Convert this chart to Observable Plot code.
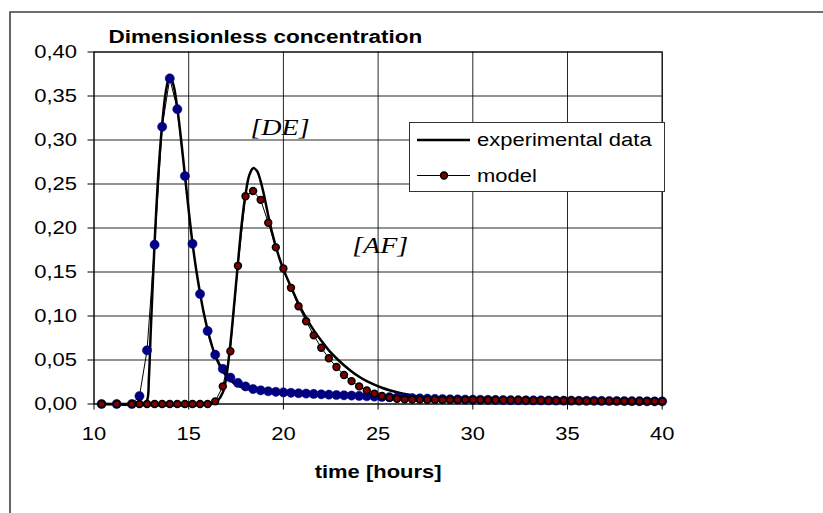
<!DOCTYPE html>
<html><head><meta charset="utf-8">
<script src="https://cdn.jsdelivr.net/npm/d3@7"></script>
<script src="https://cdn.jsdelivr.net/npm/@observablehq/plot@0.6"></script>
<style>
html,body{margin:0;padding:0;background:#fff;}
#wrap{position:relative;width:823px;height:513px;overflow:hidden;}
</style></head><body><div id="wrap"></div>
<script>
const title = "Dimensionless concentration";
const xLabel = "time [hours]";
const xTicks = [10, 15, 20, 25, 30, 35, 40];
const yTicks = [0, 0.05, 0.10, 0.15, 0.20, 0.25, 0.30, 0.35, 0.40];
const legendLabels = ["experimental data", "model"];
const annText = ["[DE]", "[AF]"];
const annX = [18.26, 23.63];
const annY = [0.314, 0.18];

const modelTime = [10.4, 11.2, 12.0, 12.4, 12.8, 13.2, 13.6, 14.0, 14.4, 14.8, 15.2, 15.6, 16.0, 16.4, 16.8, 17.2, 17.6, 18.0, 18.4, 18.8, 19.2, 19.6, 20.0, 20.4, 20.8, 21.2, 21.6, 22.0, 22.4, 22.8, 23.2, 23.6, 24.0, 24.4, 24.8, 25.2, 25.6, 26.0, 26.4, 26.8, 27.2, 27.6, 28.0, 28.4, 28.8, 29.2, 29.6, 30.0, 30.4, 30.8, 31.2, 31.6, 32.0, 32.4, 32.8, 33.2, 33.6, 34.0, 34.4, 34.8, 35.2, 35.6, 36.0, 36.4, 36.8, 37.2, 37.6, 38.0, 38.4, 38.8, 39.2, 39.6, 40.0];
const modelDE = [0.000, 0.000, 0.000, 0.009, 0.061, 0.181, 0.315, 0.370, 0.335, 0.259, 0.182, 0.125, 0.083, 0.056, 0.040, 0.030, 0.024, 0.020, 0.017, 0.0155, 0.0145, 0.0138, 0.0132, 0.0127, 0.0122, 0.0118, 0.0114, 0.0110, 0.0106, 0.0102, 0.0099, 0.0096, 0.0092, 0.0088, 0.0084, 0.0080, 0.0077, 0.0074, 0.0070, 0.0067, 0.0064, 0.0061, 0.0058, 0.0056, 0.0054, 0.0052, 0.0050, 0.0049, 0.0048, 0.0047, 0.0046, 0.0045, 0.0044, 0.0043, 0.0042, 0.0041, 0.0041, 0.0040, 0.0039, 0.0038, 0.0038, 0.0037, 0.0036, 0.0036, 0.0035, 0.0034, 0.0034, 0.0033, 0.0032, 0.0032, 0.0031, 0.0030, 0.0030];
const modelAF = [0.000, 0.000, 0.000, 0.000, 0.000, 0.000, 0.000, 0.000, 0.000, 0.000, 0.000, 0.000, 0.000, 0.003, 0.020, 0.060, 0.157, 0.236, 0.242, 0.232, 0.206, 0.178, 0.154, 0.132, 0.111, 0.094, 0.078, 0.064, 0.052, 0.042, 0.033, 0.026, 0.020, 0.0155, 0.0118, 0.0092, 0.0072, 0.0060, 0.0054, 0.0051, 0.0050, 0.0049, 0.0049, 0.0048, 0.0048, 0.0047, 0.0047, 0.0046, 0.0046, 0.0045, 0.0045, 0.0044, 0.0043, 0.0043, 0.0042, 0.0041, 0.0041, 0.0040, 0.0039, 0.0039, 0.0038, 0.0037, 0.0037, 0.0036, 0.0035, 0.0035, 0.0034, 0.0033, 0.0033, 0.0032, 0.0031, 0.0031, 0.0030];

const expDETime = [10.4, 12.0, 12.6, 12.8, 12.9, 13.0, 13.2, 13.4, 13.6, 13.8, 14.0, 14.2, 14.4, 14.6, 14.8, 15.0, 15.2, 15.4, 15.6, 15.8, 16.0, 16.2, 16.4, 16.8, 17.2, 17.6, 18.4, 19.2, 20.0, 22.0, 24.0, 26.0, 28.0, 32.0, 36.0, 40.0];
const expDE = [0, 0, 0, 0.004, 0.030, 0.085, 0.183, 0.262, 0.318, 0.356, 0.373, 0.362, 0.336, 0.300, 0.260, 0.220, 0.183, 0.152, 0.126, 0.103, 0.084, 0.068, 0.055, 0.037, 0.027, 0.021, 0.016, 0.014, 0.0125, 0.0105, 0.009, 0.007, 0.0055, 0.0045, 0.0037, 0.003];
const expAFTime = [10.4, 16.2, 16.5, 16.8, 17.0, 17.2, 17.4, 17.6, 17.8, 18.0, 18.2, 18.4, 18.6, 18.8, 19.0, 19.2, 19.4, 19.6, 19.8, 20.0, 20.4, 20.8, 21.2, 21.6, 22.0, 22.4, 22.8, 23.2, 23.6, 24.0, 24.4, 24.8, 25.2, 25.6, 26.0, 26.4, 26.8, 27.2, 27.6, 28.0, 28.8, 30.0, 34.0, 40.0];
const expAF = [0, 0, 0.003, 0.013, 0.033, 0.068, 0.113, 0.160, 0.205, 0.238, 0.260, 0.268, 0.265, 0.253, 0.235, 0.214, 0.195, 0.179, 0.165, 0.153, 0.133, 0.114, 0.098, 0.084, 0.072, 0.061, 0.052, 0.044, 0.037, 0.031, 0.026, 0.022, 0.0185, 0.0157, 0.0133, 0.0113, 0.0097, 0.0083, 0.0071, 0.0062, 0.0053, 0.0048, 0.0041, 0.003];

const model = modelTime.map((t, i) => ({t, de: modelDE[i], af: modelAF[i]}));
const expDEData = expDETime.map((t, i) => ({t, v: expDE[i]}));
const expAFData = expAFTime.map((t, i) => ({t, v: expAF[i]}));
const ann = annText.map((s, i) => ({s, x: annX[i], y: annY[i]}));

const chart = Plot.plot({
  width: 823, height: 513,
  marginLeft: 93.5, marginRight: 161.3, marginTop: 51.5, marginBottom: 109.5,
  style: {fontFamily: "'Liberation Sans', Arial, sans-serif", fontSize: "18px", color: "#000", background: "#fff", overflow: "visible"},
  x: {domain: [10, 40]},
  y: {domain: [0, 0.4]},
  marks: [
    Plot.gridX(xTicks, {stroke: "#000", strokeOpacity: 0.85, strokeWidth: 1}),
    Plot.gridY(yTicks, {stroke: "#000", strokeOpacity: 0.85, strokeWidth: 1}),
    Plot.frame({stroke: "#000", strokeWidth: 1}),
    Plot.axisX({ticks: xTicks, tickSize: 6, tickPadding: 17, label: null, tickFormat: d => String(d)}),
    Plot.axisY({ticks: yTicks, tickSize: 6, tickPadding: 11, label: null, tickFormat: d => d.toFixed(2).replace(".", ",")}),
    Plot.line(expDEData, {x: "t", y: "v", stroke: "#000", strokeWidth: 2.5, curve: "catmull-rom"}),
    Plot.line(expAFData, {x: "t", y: "v", stroke: "#000", strokeWidth: 2.5, curve: "catmull-rom"}),
    Plot.line(model, {x: "t", y: "de", stroke: "#000", strokeWidth: 1}),
    Plot.dot(model, {x: "t", y: "de", r: 4.6, fill: "#000080", stroke: "#000080", strokeWidth: 0.5}),
    Plot.line(model, {x: "t", y: "af", stroke: "#000", strokeWidth: 1}),
    Plot.dot(model, {x: "t", y: "af", r: 3.4, fill: "#800000", stroke: "#000", strokeWidth: 1.6}),
    Plot.text(ann, {x: "x", y: "y", text: "s", textAnchor: "start", fontFamily: "'Liberation Serif', 'Times New Roman', serif", fontStyle: "italic", fontSize: 23}),
    Plot.text([title], {frameAnchor: "top-left", dx: 14.5, dy: -21.5, textAnchor: "start", fontWeight: "bold", text: d => d}),
    Plot.text([xLabel], {frameAnchor: "bottom", dy: 74, fontWeight: "bold", text: d => d})
  ]
});
document.getElementById("wrap").append(chart);
const svg = d3.select(chart);

// outer chart border (open on the right and bottom, as in the picture)
svg.insert("path", ":first-child").attr("d", "M10,513V12H823").attr("fill", "none").attr("stroke", "#404040").attr("stroke-width", 1.6);

// legend
const lg = svg.append("g").attr("font-family", "'Liberation Sans', Arial, sans-serif").attr("font-size", 18).attr("text-anchor", "start");
lg.append("rect").attr("x", 409.5).attr("y", 122.5).attr("width", 255).attr("height", 69).attr("fill", "#fff").attr("stroke", "#333");
lg.append("line").attr("x1", 417).attr("x2", 470).attr("y1", 140).attr("y2", 140).attr("stroke", "#000").attr("stroke-width", 2.5);
lg.append("text").attr("x", 477).attr("y", 146).attr("text-anchor", "start").text(legendLabels[0]);
lg.append("line").attr("x1", 417).attr("x2", 470).attr("y1", 175.5).attr("y2", 175.5).attr("stroke", "#000").attr("stroke-width", 1);
lg.append("circle").attr("cx", 444).attr("cy", 175.5).attr("r", 3.4).attr("fill", "#800000").attr("stroke", "#000").attr("stroke-width", 1.6);
lg.append("text").attr("x", 477).attr("y", 181.5).attr("text-anchor", "start").text(legendLabels[1]);

// the reference text is drawn horizontally stretched
svg.selectAll("text").each(function() {
  const k = this.textContent === title ? 1.25 : 1.22;
  const L = this.getComputedTextLength();
  if (L > 0) {
    this.setAttribute("textLength", (L * k).toFixed(1));
    this.setAttribute("lengthAdjust", "spacingAndGlyphs");
  }
});
</script></body></html>
